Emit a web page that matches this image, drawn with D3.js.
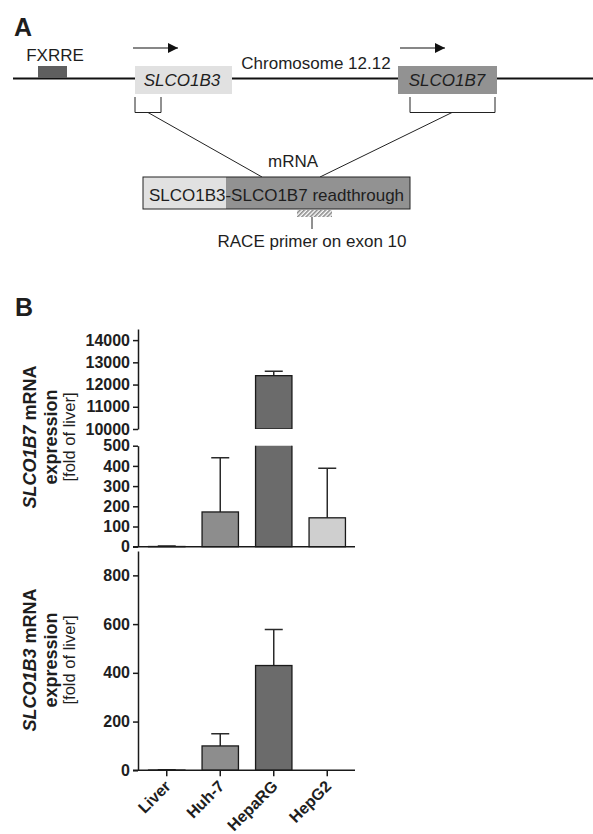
<!doctype html>
<html>
<head>
<meta charset="utf-8">
<script src="https://cdn.jsdelivr.net/npm/d3@7"></script>
<style>
  body { margin: 0; background: #fff; }
  svg { display: block; font-family: "Liberation Sans", Arial, sans-serif; }
  .tick text { font-weight: bold; font-size: 16px; fill: #1e1e1e; }
</style>
</head>
<body>
<svg id="fig" width="593" height="834"></svg>
<script>
// data
var cells = ["Liver", "Huh-7", "HepaRG", "HepG2"];
var barColors = ["#ffffff", "#8d8d8d", "#6b6b6b", "#cfcfcf"];
var b7Mean = [1, 172, 12400, 143];   // SLCO1B7, fold of liver
var b7Sd   = [2, 268, 200, 245];
var b3Mean = [1, 100, 430, 0];       // SLCO1B3, fold of liver
var b3Sd   = [1, 50, 148, 0];
var b7LowTicks  = [0, 100, 200, 300, 400, 500];
var b7HighTicks = [10000, 11000, 12000, 13000, 14000];
var b3Ticks     = [0, 200, 400, 600, 800];

var svg = d3.select("#fig");
var ink = "#1e1e1e";

// ---------------- panel A : gene schematic ----------------
var A = svg.append("g");
A.append("text").attr("x", 14).attr("y", 36).attr("font-size", 25).attr("font-weight", "bold").attr("fill", ink).text("A");

// chromosome line
A.append("line").attr("x1", 13).attr("x2", 593).attr("y1", 78.5).attr("y2", 78.5)
  .attr("stroke", "#111").attr("stroke-width", 2);

// FXRRE
A.append("rect").attr("x", 38).attr("y", 66).attr("width", 29).attr("height", 12).attr("fill", "#5f5f5f");
A.append("text").attr("x", 55).attr("y", 61).attr("text-anchor", "middle").attr("font-size", 17).attr("fill", ink).text("FXRRE");

// arrowheads
var defs = svg.append("defs");
defs.append("marker").attr("id", "arr").attr("viewBox", "0 0 10 10").attr("refX", 10).attr("refY", 5)
  .attr("markerWidth", 10).attr("markerHeight", 10).attr("markerUnits", "userSpaceOnUse").attr("orient", "auto")
  .append("path").attr("d", "M0,0 L10,5 L0,10 Z").attr("fill", "#111");
[[133, 178], [400, 445]].forEach(function(a) {
  A.append("line").attr("x1", a[0]).attr("x2", a[1]).attr("y1", 48).attr("y2", 48)
    .attr("stroke", "#111").attr("stroke-width", 1.2).attr("marker-end", "url(#arr)");
});

// gene boxes
A.append("rect").attr("x", 135).attr("y", 66).attr("width", 97).attr("height", 28).attr("fill", "#e1e1e1");
A.append("text").attr("x", 182).attr("y", 86).attr("text-anchor", "middle").attr("font-size", 17)
  .attr("font-style", "italic").attr("fill", ink).text("SLCO1B3");
A.append("rect").attr("x", 398).attr("y", 66).attr("width", 99).attr("height", 28).attr("fill", "#929292");
A.append("text").attr("x", 447).attr("y", 86).attr("text-anchor", "middle").attr("font-size", 17)
  .attr("font-style", "italic").attr("fill", ink).text("SLCO1B7");
A.append("text").attr("x", 316).attr("y", 69).attr("text-anchor", "middle").attr("font-size", 17)
  .attr("fill", ink).text("Chromosome 12.12");

// brackets and connecting lines
[[135, 161], [410, 495]].forEach(function(b) {
  A.append("path").attr("d", "M" + b[0] + ",97 V112.5 H" + b[1] + " V97")
    .attr("fill", "none").attr("stroke", "#222").attr("stroke-width", 1);
});
A.append("line").attr("x1", 148).attr("y1", 112.5).attr("x2", 262).attr("y2", 177).attr("stroke", "#222");
A.append("line").attr("x1", 452).attr("y1", 112.5).attr("x2", 320).attr("y2", 177).attr("stroke", "#222");

A.append("text").attr("x", 293).attr("y", 167).attr("text-anchor", "middle").attr("font-size", 17)
  .attr("fill", ink).text("mRNA");

// mRNA box
A.append("rect").attr("x", 143).attr("y", 177).attr("width", 83).attr("height", 32).attr("fill", "#e1e1e1");
A.append("rect").attr("x", 226).attr("y", 177).attr("width", 184).attr("height", 32).attr("fill", "#929292");
A.append("rect").attr("x", 143).attr("y", 177).attr("width", 267).attr("height", 32)
  .attr("fill", "none").attr("stroke", "#222").attr("stroke-width", 1);
A.append("text").attr("x", 276.5).attr("y", 201).attr("text-anchor", "middle").attr("font-size", 17)
  .attr("fill", ink).text("SLCO1B3-SLCO1B7 readthrough");

// hatched primer
var pat = defs.append("pattern").attr("id", "hatch").attr("width", 3).attr("height", 3)
  .attr("patternUnits", "userSpaceOnUse").attr("patternTransform", "rotate(45)");
pat.append("rect").attr("width", 1.6).attr("height", 3).attr("fill", "#8a8a8a");
A.append("rect").attr("x", 297).attr("y", 210).attr("width", 35).attr("height", 7).attr("fill", "url(#hatch)");
A.append("line").attr("x1", 312).attr("x2", 312).attr("y1", 217).attr("y2", 229).attr("stroke", "#222");
A.append("text").attr("x", 312).attr("y", 247).attr("text-anchor", "middle").attr("font-size", 17)
  .attr("fill", ink).text("RACE primer on exon 10");

// ---------------- panel B : bar charts ----------------
svg.append("text").attr("x", 15).attr("y", 316).attr("font-size", 25).attr("font-weight", "bold").attr("fill", ink).text("B");

var axX = 138, xEnd = 355;
var x = d3.scaleBand().domain(cells).range([140, 354]).paddingInner(0.32).paddingOuter(0.16);

var yHi = d3.scaleLinear().domain([10000, 14500]).range([429, 329]);
var yLo = d3.scaleLinear().domain([0, 500]).range([546.7, 445.7]);
var y3  = d3.scaleLinear().domain([0, 900]).range([770.3, 551]);

function styleAxis(g) {
  g.selectAll("path, line").attr("stroke", "#1a1a1a").attr("stroke-width", 1.5);
  g.selectAll("text").attr("font-family", "Liberation Sans, Arial, sans-serif");
}

function leftAxis(scale, ticks) {
  var g = svg.append("g").attr("transform", "translate(" + axX + ",0)")
    .call(d3.axisLeft(scale).tickValues(ticks).tickSize(5).tickSizeOuter(0).tickPadding(3).tickFormat(d3.format("d")));
  styleAxis(g);
  return g;
}

// clip paths for the broken axis
defs.append("clipPath").attr("id", "clipHi").append("rect").attr("x", 0).attr("y", 300).attr("width", 593).attr("height", 129);
defs.append("clipPath").attr("id", "clipLo").append("rect").attr("x", 0).attr("y", 445.7).attr("width", 593).attr("height", 110);

function bars(parent, scale, mean, sd, clip) {
  var g = parent.append("g");
  if (clip) g.attr("clip-path", "url(#" + clip + ")");
  var y0 = scale.range()[0];
  // error bars (upper only)
  g.selectAll(".err").data(cells).enter().append("path")
    .attr("d", function(d, i) {
      var cx = x(d) + x.bandwidth() / 2;
      var yt = scale(mean[i] + sd[i]);
      return "M" + cx + "," + scale(mean[i]) + " V" + yt + " M" + (cx - 9) + "," + yt + " H" + (cx + 9);
    })
    .attr("fill", "none").attr("stroke", "#2a2a2a").attr("stroke-width", 1.5)
    .style("display", function(d, i) { return sd[i] > 0 ? null : "none"; });
  g.selectAll(".bar").data(cells).enter().append("rect")
    .attr("x", function(d) { return x(d); })
    .attr("width", x.bandwidth())
    .attr("y", function(d, i) { return Math.min(scale(mean[i]), y0); })
    .attr("height", function(d, i) { return Math.max(0, y0 - scale(mean[i])); })
    .attr("fill", function(d, i) { return barColors[i]; })
    .attr("stroke", "#1a1a1a").attr("stroke-width", 1.3);
  return g;
}

// SLCO1B7 chart (broken axis)
var chart7 = svg.append("g");
bars(chart7, yLo, b7Mean, b7Sd, "clipLo");
bars(chart7, yHi, b7Mean, b7Sd, "clipHi");
leftAxis(yLo, b7LowTicks);
leftAxis(yHi, b7HighTicks);
svg.append("line").attr("x1", 133).attr("x2", xEnd).attr("y1", yLo(0)).attr("y2", yLo(0))
  .attr("stroke", "#1a1a1a").attr("stroke-width", 1.5);

// SLCO1B3 chart
var chart3 = svg.append("g");
bars(chart3, y3, b3Mean, b3Sd, null);
leftAxis(y3, b3Ticks);
var xa = svg.append("g").attr("transform", "translate(0," + y3(0) + ")")
  .call(d3.axisBottom(x).tickSize(6).tickSizeOuter(0));
xa.select(".domain").remove();
styleAxis(xa);
svg.append("line").attr("x1", 133).attr("x2", xEnd).attr("y1", y3(0)).attr("y2", y3(0))
  .attr("stroke", "#1a1a1a").attr("stroke-width", 1.5);
xa.selectAll(".tick text")
  .attr("text-anchor", "end").attr("y", 0).attr("dy", 0)
  .attr("transform", "translate(5,17) rotate(-45)")
  .style("font-size", "16px");

// axis titles
function yTitle(gene, cy) {
  var t = svg.append("g").attr("transform", "translate(0," + cy + ") rotate(-90)");
  var l1 = t.append("text").attr("x", 0).attr("y", 36).attr("text-anchor", "middle")
    .attr("font-size", 18).attr("font-weight", "bold").attr("fill", ink);
  l1.append("tspan").attr("font-style", "italic").text(gene);
  l1.append("tspan").text(" mRNA");
  t.append("text").attr("x", 0).attr("y", 57).attr("text-anchor", "middle")
    .attr("font-size", 18).attr("font-weight", "bold").attr("fill", ink).text("expression");
  t.append("text").attr("x", 0).attr("y", 75).attr("text-anchor", "middle")
    .attr("font-size", 16.5).attr("fill", ink).text("[fold of liver]");
}
yTitle("SLCO1B7", 437);
yTitle("SLCO1B3", 660);
</script>
</body>
</html>
